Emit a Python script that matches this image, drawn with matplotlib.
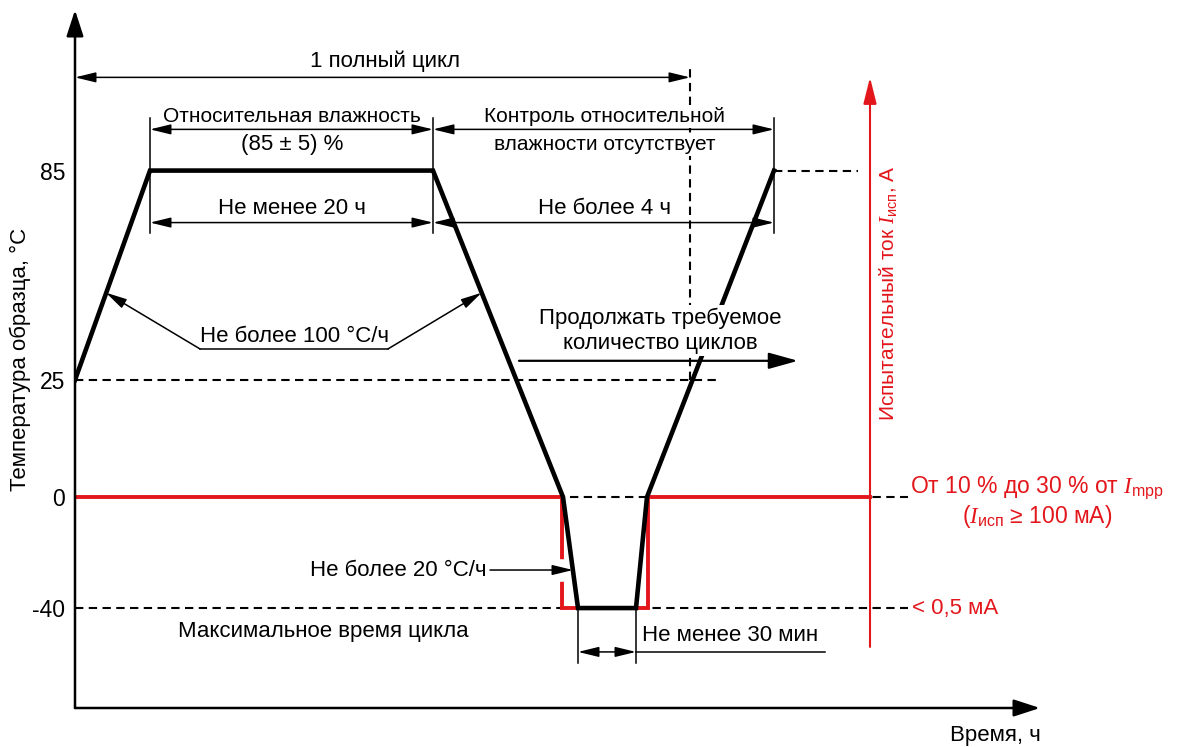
import numpy as np
import matplotlib.pyplot as plt

plt.rcParams['font.family'] = ['Liberation Sans', 'DejaVu Sans']
plt.rcParams['mathtext.fontset'] = 'custom'
plt.rcParams['mathtext.rm'] = 'Liberation Sans'
plt.rcParams['mathtext.it'] = 'Liberation Serif:italic'

# one test cycle, time axis is schematic (no ticks in the original)
t_profile = [0, 75, 358, 488, 503, 561, 572, 699]
temp_profile = [25, 85, 85, 0, -40, -40, 0, 85]

# test current: full current drawn on the "0" level, < 0,5 mA on the "-40" level
t_current = [0, 487, 487, 573, 573, 795]
current_level = [0, 0, -40, -40, 0, 0]

temp_ticks = [85, 25, 0, -40]
temp_ticklabels = ['85', '25', '0', '-40']

# the temperature axis is not to scale: piecewise linear
scale_temp = [-76, 0, 25, 131]
scale_pos = [0, 211, 328, 698]

RED = '#e3161b'
FS = 16
FS_S = 15


def _pw(x, xp, fp):
    x = np.asarray(x, dtype=float)
    y = np.interp(x, xp, fp)
    y = np.where(x < xp[0], fp[0] + (x - xp[0]) * (fp[1] - fp[0]) / (xp[1] - xp[0]), y)
    y = np.where(x > xp[-1], fp[-1] + (x - xp[-1]) * (fp[-1] - fp[-2]) / (xp[-1] - xp[-2]), y)
    return y


def fwd(t):
    return _pw(t, scale_temp, scale_pos)


def inv(p):
    return _pw(p, scale_pos, scale_temp)


fig = plt.figure(figsize=(11.79, 7.47), dpi=100)
ax = fig.add_axes([75 / 1179, 39 / 747, 965 / 1179, 698 / 747])
ax.set_yscale('function', functions=(fwd, inv))
ax.set_xlim(0, 965)
ax.set_ylim(-76, 131)
for s in ax.spines.values():
    s.set_visible(False)
ax.set_xticks([])
ax.set_yticks(temp_ticks)
ax.set_yticklabels(temp_ticklabels)
ax.yaxis.set_minor_locator(plt.NullLocator())
ax.tick_params(axis='y', length=0, pad=7, labelsize=FS + 0.5)

# axes with arrows
ax.annotate('', xy=(0, 1), xytext=(0, 0), xycoords='axes fraction',
            arrowprops=dict(arrowstyle='-|>,head_length=0.8,head_width=0.26', color='k',
                            lw=1.8, shrinkA=0, shrinkB=0, mutation_scale=20))
ax.annotate('', xy=(1, 0), xytext=(0, 0), xycoords='axes fraction',
            arrowprops=dict(arrowstyle='-|>,head_length=0.8,head_width=0.26', color='k',
                            lw=1.8, shrinkA=0, shrinkB=0, mutation_scale=20))
ax.set_ylabel('Температура образца, °C', fontsize=FS)
ax.yaxis.set_label_coords(-0.046, 0.5)
ax.text(920, -86, 'Время, ч', fontsize=FS, ha='center', va='center')

# reference levels
dash = dict(color='k', lw=1.5, ls=(0, (4, 2.6)), zorder=1)
ax.plot([0, 645], [25, 25], **dash)
ax.plot([0, 833], [0, 0], **dash)
ax.plot([0, 833], [-40, -40], **dash)
ax.plot([699, 783], [85, 85], **dash)
ax.plot([615, 615], [25, 114], **dash)

# temperature and current
ax.plot(t_profile, temp_profile, color='k', lw=3.3, solid_joinstyle='miter', zorder=3)
ax.plot(t_current, current_level, color=RED, lw=2.8, solid_joinstyle='miter', zorder=2)
# small gap in the red step where the leader arrow crosses it
ax.plot([487, 487], [-23.5, -29.5], color='white', lw=4, zorder=2.5)

# red current axis
ax.annotate('', xy=(795, 111.7), xytext=(795, -54),
            arrowprops=dict(arrowstyle='-|>,head_length=0.8,head_width=0.2', color=RED,
                            lw=1.5, shrinkA=0, shrinkB=0, mutation_scale=20), zorder=2)
ax.text(813, 50, 'Испытательный ток $I_{\\mathrm{исп}}$, А', color=RED, fontsize=FS_S,
        rotation=90, ha='center', va='center')
ax.text(962, 2, 'От 10 % до 30 % от $I_{\\mathrm{mpp}}$', color=RED, fontsize=FS + 0.5,
        ha='center', va='center')
ax.text(962, -7, '($I_{\\mathrm{исп}}$ ≥ 100 мА)', color=RED, fontsize=FS + 0.5,
        ha='center', va='center')
ax.text(837, -40, '< 0,5 мА', color=RED, fontsize=FS, ha='left', va='center')


def arrow(x0, y0, x1, y1, style='-|>', z=5):
    ax.annotate('', xy=(x1, y1), xytext=(x0, y0),
                arrowprops=dict(arrowstyle=style + ',head_length=0.7,head_width=0.17',
                                color='k', lw=1.1, shrinkA=0, shrinkB=0, mutation_scale=18),
                zorder=z)


thin = dict(color='k', lw=1.1, zorder=4)
white = dict(facecolor='white', edgecolor='none', pad=1.5)

# full cycle
arrow(0, 111.7, 615, 111.7, '<|-|>')
ax.text(310, 116.3, '1 полный цикл', fontsize=FS, ha='center', va='center')

# humidity and duration dimensions
for x in [75, 358, 699]:
    ax.plot([x, x], [67.2, 100.2], **thin)
arrow(75, 96.8, 358, 96.8, '<|-|>')
arrow(358, 96.8, 699, 96.8, '<|-|>')
arrow(75, 70.1, 358, 70.1, '<|-|>')
arrow(358, 70.1, 699, 70.1, '<|-|>')
ax.text(217, 100.5, 'Относительная влажность', fontsize=FS_S, ha='center', va='center')
ax.text(217, 92.4, '(85 ± 5) %', fontsize=FS, ha='center', va='center')
ax.text(530, 100.5, 'Контроль относительной', fontsize=FS_S, ha='center', va='center',
        bbox=white, zorder=4)
ax.text(530, 92.4, 'влажности отсутствует', fontsize=FS_S, ha='center', va='center',
        bbox=white, zorder=4)
ax.text(217, 74.1, 'Не менее 20 ч', fontsize=FS, ha='center', va='center')
ax.text(530, 74.1, 'Не более 4 ч', fontsize=FS, ha='center', va='center')

# ramp rate
ax.plot([125, 313], [33.9, 33.9], **thin)
arrow(125, 33.9, 31, 50)
arrow(313, 33.9, 406.6, 50)
ax.text(219, 37.6, 'Не более 100 °C/ч', fontsize=FS, ha='center', va='center')

# continue cycles
ax.text(585, 42.8, 'Продолжать требуемое', fontsize=FS, ha='center', va='center',
        bbox=white, zorder=4)
ax.text(585, 35.6, 'количество циклов', fontsize=FS, ha='center', va='center',
        bbox=white, zorder=4)
ax.annotate('', xy=(723, 30.5), xytext=(444, 30.5),
            arrowprops=dict(arrowstyle='-|>,head_length=0.9,head_width=0.25', color='k',
                            lw=1.6, shrinkA=0, shrinkB=0, mutation_scale=20), zorder=5)

# cold ramp
arrow(415, -26.3, 498, -26.3)
ax.text(411, -26.3, 'Не более 20 °C/ч', fontsize=FS, ha='right', va='center')
ax.text(248, -48.6, 'Максимальное время цикла', fontsize=FS, ha='center', va='center')

# cold dwell
for x in [503, 561]:
    ax.plot([x, x], [-40, -59.8], **thin)
arrow(503, -55.8, 561, -55.8, '<|-|>')
ax.plot([561, 750], [-55.8, -55.8], **thin)
ax.text(567, -50, 'Не менее 30 мин', fontsize=FS, ha='left', va='center')

fig.savefig('out.png', dpi=100)
